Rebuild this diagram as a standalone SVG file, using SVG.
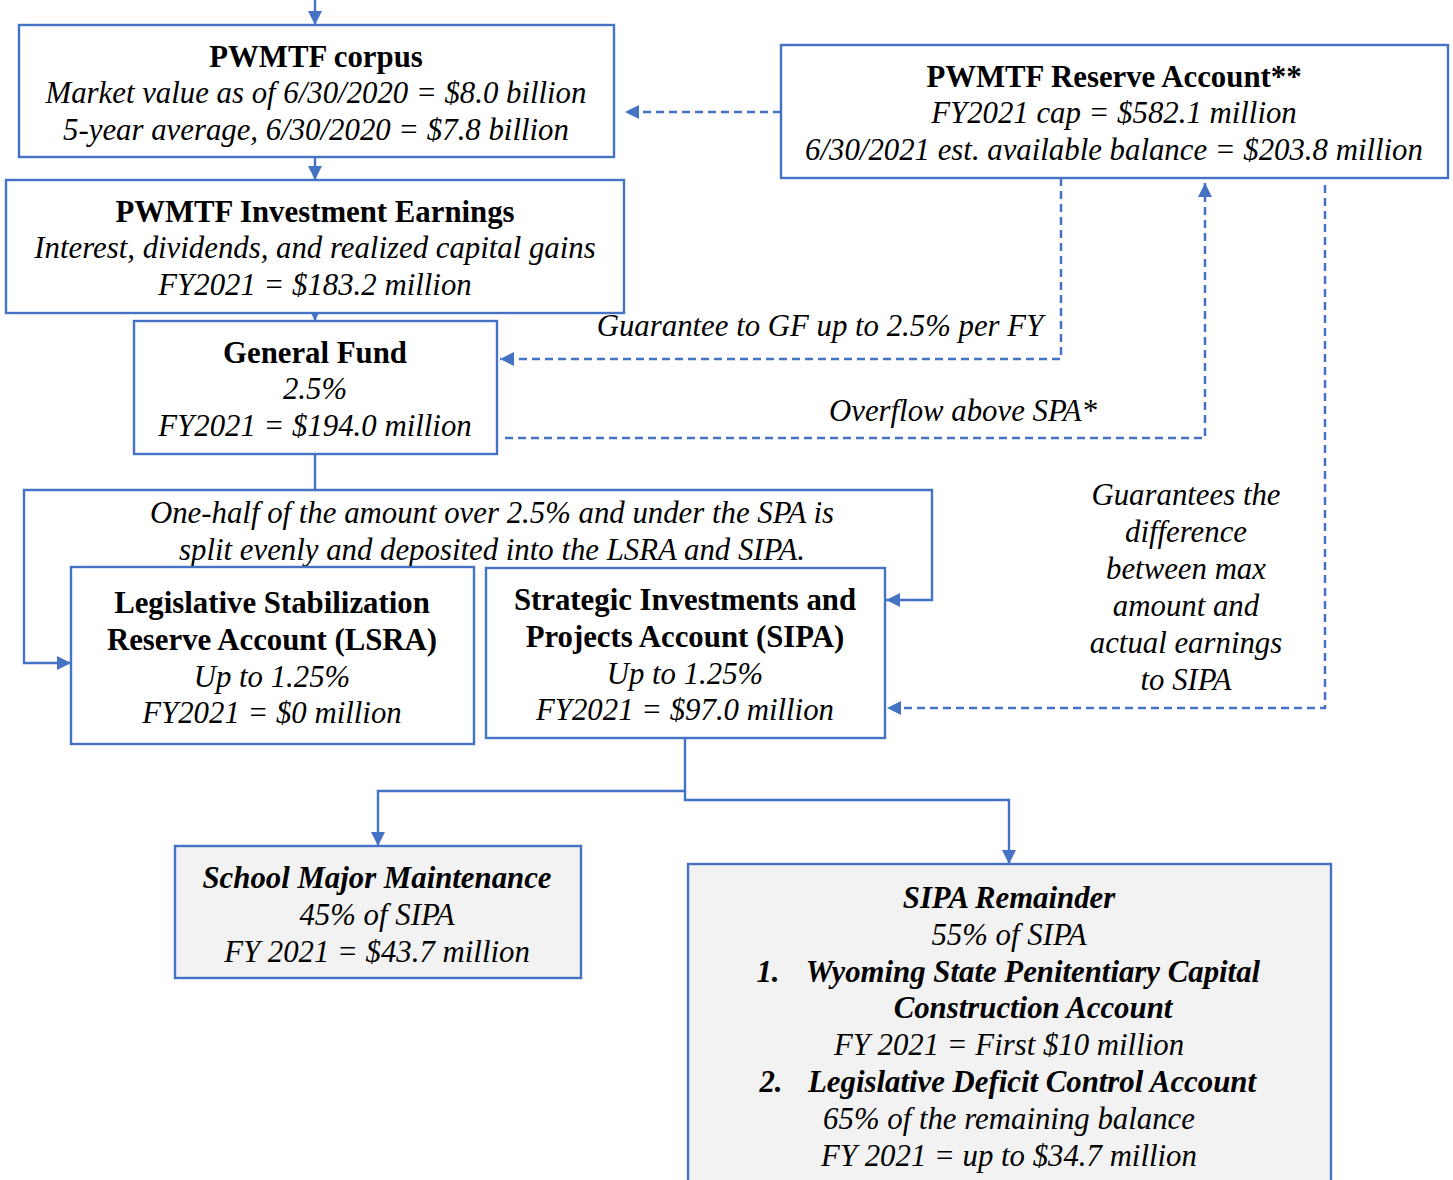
<svg xmlns="http://www.w3.org/2000/svg" width="1453" height="1180" viewBox="0 0 1453 1180">
<style>
.box{fill:#fff;stroke:#4472C4;stroke-width:2.4}
.gbox{fill:#F2F2F2;stroke:#4472C4;stroke-width:2.4}
.c{fill:none;stroke:#4472C4;stroke-width:2.4}
.d{fill:none;stroke:#4472C4;stroke-width:2.5;stroke-dasharray:8 5}
text{font-family:"Liberation Serif","Times New Roman",serif;font-size:30.8px;fill:#000;text-anchor:middle}
.b{font-weight:bold}
.i{font-style:italic}
.bi{font-weight:bold;font-style:italic}
</style>
<defs>
<marker id="ah" markerWidth="15" markerHeight="14" refX="14" refY="7" orient="auto" markerUnits="userSpaceOnUse"><path d="M0,0 L14,7 L0,14 z" fill="#4472C4"/></marker>
</defs>
<rect width="1453" height="1180" fill="#fff"/>
<g id="connectors">
<path class="c" d="M315,0 V25" marker-end="url(#ah)"/>
<path class="c" d="M315,157 V180" marker-end="url(#ah)"/>
<path class="c" d="M315,306 V321" marker-end="url(#ah)"/>
<path class="d" d="M781,112 H625" marker-end="url(#ah)"/>
<path class="d" d="M1061,178 V359 H500" marker-end="url(#ah)"/>
<path class="d" d="M505,438 H1205 V183" marker-end="url(#ah)"/>
<path class="d" d="M1325,185 V708 H887" marker-end="url(#ah)"/>
<path class="c" d="M315,454 V490 H24 V663 H71" marker-end="url(#ah)"/>
<path class="c" d="M315,490 H932 V600 H886" marker-end="url(#ah)"/>
<path class="c" d="M685,738 V791 H378 V846" marker-end="url(#ah)"/>
<path class="c" d="M685,791 V800 H1009 V864" marker-end="url(#ah)"/>
</g>
<g id="labels">
<text class="i" x="820" y="336">Guarantee to GF up to 2.5% per FY</text>
<text class="i" x="963" y="421">Overflow above SPA*</text>
<text class="i" x="492" y="523">One-half of the amount over 2.5% and under the SPA is</text>
<text class="i" x="492" y="560">split evenly and deposited into the LSRA and SIPA.</text>
<text class="i" x="1186" y="505">Guarantees the</text>
<text class="i" x="1186" y="542">difference</text>
<text class="i" x="1186" y="579">between max</text>
<text class="i" x="1186" y="616">amount and</text>
<text class="i" x="1186" y="653">actual earnings</text>
<text class="i" x="1186" y="690">to SIPA</text>
</g>
<g id="corpus">
<rect class="box" x="19" y="25" width="595" height="132"/>
<text class="b" x="316" y="67">PWMTF corpus</text>
<text class="i" x="316" y="103">Market value as of 6/30/2020 = $8.0 billion</text>
<text class="i" x="316" y="140">5-year average, 6/30/2020 = $7.8 billion</text>
</g>
<g id="earnings">
<rect class="box" x="6" y="180" width="618" height="133"/>
<text class="b" x="315" y="222">PWMTF Investment Earnings</text>
<text class="i" x="315" y="258">Interest, dividends, and realized capital gains</text>
<text class="i" x="315" y="295">FY2021 = $183.2 million</text>
</g>
<g id="general-fund">
<rect class="box" x="134" y="321" width="363" height="133"/>
<text class="b" x="315" y="363">General Fund</text>
<text class="i" x="315" y="399">2.5%</text>
<text class="i" x="315" y="436">FY2021 = $194.0 million</text>
</g>
<g id="reserve">
<rect class="box" x="781" y="45" width="667" height="133"/>
<text class="b" x="1114" y="87">PWMTF Reserve Account**</text>
<text class="i" x="1114" y="123">FY2021 cap = $582.1 million</text>
<text class="i" x="1114" y="160">6/30/2021 est. available balance = $203.8 million</text>
</g>
<g id="lsra">
<rect class="box" x="71" y="567" width="403" height="177"/>
<text class="b" x="272" y="613">Legislative Stabilization</text>
<text class="b" x="272" y="650">Reserve Account (LSRA)</text>
<text class="i" x="272" y="687">Up to 1.25%</text>
<text class="i" x="272" y="723">FY2021 = $0 million</text>
</g>
<g id="sipa">
<rect class="box" x="486" y="568" width="399" height="170"/>
<text class="b" x="685" y="610">Strategic Investments and</text>
<text class="b" x="685" y="647">Projects Account (SIPA)</text>
<text class="i" x="685" y="684">Up to 1.25%</text>
<text class="i" x="685" y="720">FY2021 = $97.0 million</text>
</g>
<g id="school">
<rect class="gbox" x="175" y="846" width="406" height="132"/>
<text class="bi" x="377" y="888">School Major Maintenance</text>
<text class="i" x="377" y="925">45% of SIPA</text>
<text class="i" x="377" y="962">FY 2021 = $43.7 million</text>
</g>
<g id="sipa-remainder">
<rect class="gbox" x="688" y="864" width="643" height="330"/>
<text class="bi" x="1009" y="908">SIPA Remainder</text>
<text class="i" x="1009" y="945">55% of SIPA</text>
<text class="bi" x="768" y="982">1.</text>
<text class="bi" x="1033" y="982">Wyoming State Penitentiary Capital</text>
<text class="bi" x="1033" y="1018">Construction Account</text>
<text class="i" x="1009" y="1055">FY 2021 = First $10 million</text>
<text class="bi" x="771" y="1092">2.</text>
<text class="bi" x="1032" y="1092">Legislative Deficit Control Account</text>
<text class="i" x="1009" y="1129">65% of the remaining balance</text>
<text class="i" x="1009" y="1166">FY 2021 = up to $34.7 million</text>
</g>
</svg>
